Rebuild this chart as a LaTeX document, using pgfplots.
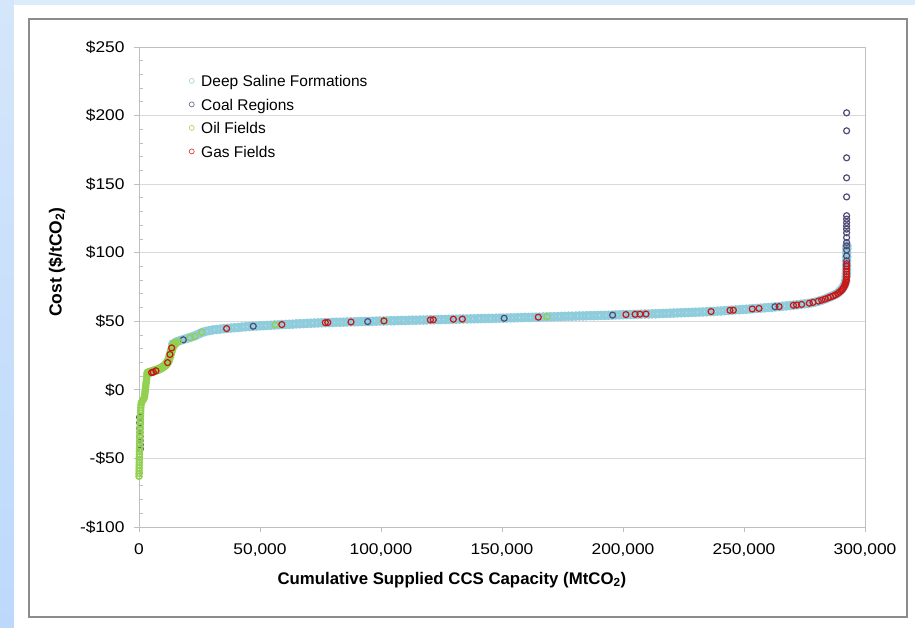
\documentclass[border=0pt]{standalone}
\usepackage{fontspec}
\setmainfont{Liberation Sans}
\newfontfamily\tickfont{Liberation Sans}[FakeStretch=1.12]
\usepackage{pgfplots}
\usepackage{pgfplotstable}
\pgfplotsset{compat=1.18}

\definecolor{salinec}{RGB}{143,204,220}
\definecolor{coalc}{RGB}{80,76,120}
\definecolor{oilc}{RGB}{146,208,80}
\definecolor{gasc}{RGB}{200,24,24}
\definecolor{gridc}{RGB}{217,217,217}
\definecolor{boxc}{RGB}{191,191,191}
\definecolor{framec}{RGB}{140,140,140}
\definecolor{bgtop}{RGB}{221,236,251}
\definecolor{bgleftA}{RGB}{212,230,250}
\definecolor{bgleftB}{RGB}{188,217,252}

% Deep saline formations: cumulative capacity (MtCO2) vs cost ($/tCO2)
\pgfplotstableread{
x y
14000 33.5
15500 35.0
17000 36.0
18500 36.8
20000 37.6
21500 38.4
23000 39.4
24500 40.6
26000 41.8
27500 42.6
29000 43.2
30500 43.7
32000 44.0
33500 44.3
35000 44.6
36500 44.8
38000 45.1
39500 45.3
41000 45.5
42500 45.8
44000 46.0
45500 46.2
47000 46.4
48500 46.5
50000 46.7
51500 46.8
53000 47.0
54500 47.1
56000 47.3
57500 47.4
59000 47.6
60500 47.7
62000 47.8
63500 47.9
65000 48.1
66500 48.2
68000 48.3
69500 48.5
71000 48.6
72500 48.7
74000 48.8
75500 48.9
77000 49.0
78500 49.1
80000 49.2
81500 49.3
83000 49.3
84500 49.4
86000 49.5
87500 49.6
89000 49.6
90500 49.7
92000 49.8
93500 49.9
95000 49.9
96500 50.0
98000 50.1
99500 50.2
101000 50.2
102500 50.3
104000 50.4
105500 50.4
107000 50.5
108500 50.6
110000 50.6
111500 50.7
113000 50.8
114500 50.8
116000 50.9
117500 50.9
119000 51.0
120500 51.1
122000 51.1
123500 51.2
125000 51.3
126500 51.3
128000 51.4
129500 51.5
131000 51.5
132500 51.6
134000 51.7
135500 51.7
137000 51.8
138500 51.8
140000 51.9
141500 52.0
143000 52.0
144500 52.1
146000 52.1
147500 52.2
149000 52.3
150500 52.3
152000 52.4
153500 52.5
155000 52.5
156500 52.6
158000 52.7
159500 52.8
161000 52.8
162500 52.9
164000 53.0
165500 53.0
167000 53.1
168500 53.2
170000 53.3
171500 53.3
173000 53.4
174500 53.5
176000 53.6
177500 53.7
179000 53.7
180500 53.8
182000 53.9
183500 53.9
185000 54.0
186500 54.1
188000 54.1
189500 54.2
191000 54.3
192500 54.3
194000 54.4
195500 54.5
197000 54.6
198500 54.7
200000 54.8
201500 54.9
203000 54.9
204500 55.0
206000 55.1
207500 55.2
209000 55.3
210500 55.3
212000 55.4
213500 55.5
215000 55.6
216500 55.7
218000 55.8
219500 55.9
221000 56.0
222500 56.1
224000 56.2
225500 56.3
227000 56.4
228500 56.5
230000 56.6
231500 56.7
233000 56.8
234500 56.9
236000 57.1
237500 57.2
239000 57.4
240500 57.5
242000 57.7
243500 57.9
245000 58.1
246500 58.3
248000 58.4
249500 58.6
251000 58.8
252500 59.0
254000 59.2
255500 59.4
257000 59.6
258500 59.8
260000 60.0
261500 60.2
263000 60.5
264500 60.7
266000 61.0
267500 61.2
269000 61.5
270500 61.8
272000 62.0
273500 62.4
275000 62.7
276500 63.0
278000 63.5
279500 64.0
281000 64.8
282500 65.6
284000 66.6
285000 67.4
286000 68.1
287000 68.9
288000 69.8
289000 71.0
289800 72.3
290500 73.6
291100 75.2
291600 77.0
292000 79.5
292200 82.5
292300 85
292350 88
292400 91
292400 94
292450 97
292450 100
292500 103
292500 105
}\salinetable

% Coal regions
\pgfplotstableread{
x y
250 -20
300 -24
350 -28
400 -31
450 -34
480 -37
520 -40
560 -43
18300 36.5
47200 46.4
94500 49.8
150900 52.2
195700 54.5
262800 60.6
292400 90.5
292400 94.1
292400 97.7
292400 102.0
292400 105.0
292400 107.5
292400 111.0
292400 114.5
292400 117.2
292400 119.6
292400 122.0
292400 124.5
292400 127.0
292400 140.7
292400 154.6
292400 169.2
292400 188.9
292400 202.0
}\coaltable

% Oil fields: steep low-cost column
\pgfplotstableread{
x y
0 -63
20 -61
40 -59
60 -57
80 -55
100 -53
120 -51
140 -49
160 -47
190 -45
220 -43
250 -41
280 -39
310 -37
340 -35
370 -33
400 -31
430 -29
460 -27
500 -25
540 -23
580 -21
620 -19
660 -17
700 -15
760 -13
830 -11
950 -9.5
1200 -8.5
1500 -7.8
1800 -7.0
2100 -6.0
2300 -4.5
2400 -3.0
2500 -1.5
2600 0.0
2700 1.5
2800 3.0
2900 4.5
3000 6.0
3100 7.5
3200 9.0
3300 10.5
3400 12.0
}\oilcolumn

% Oil fields: bend towards the saline band
\pgfplotstableread{
x y
3700 12.4
4200 12.7
4800 13.0
5400 13.3
6000 13.7
6700 14.1
7400 14.5
8100 15.0
8800 15.6
9500 16.3
10200 17.1
10800 18.0
11400 19.1
11900 20.4
12300 22.0
12600 23.8
12900 25.6
13200 27.5
13500 29.4
13900 31.2
14400 32.8
15000 34.0
}\oilbend

% Oil fields: scattered further along
\pgfplotstableread{
x y
16300 35.2
21100 38.1
23100 38.9
25900 42.0
56200 47.4
101400 50.3
168500 53.4
}\oilscatter

% Gas fields
\pgfplotstableread{
x y
5200 12.6
5900 12.9
7000 13.9
11800 19.9
12800 25.8
13500 30.6
36200 44.7
59000 47.6
77000 49.0
78000 49.1
87600 49.5
101200 50.3
120400 51.0
121600 51.1
129900 51.5
133600 51.6
165000 53.0
201200 54.9
205000 55.1
207000 55.2
209500 55.3
236400 57.1
244200 58.0
245600 58.1
253400 59.0
256200 59.4
264500 60.7
270400 61.7
271700 61.9
273800 62.3
277000 63.2
278500 63.8
280700 64.7
282100 65.4
283500 66.2
284800 67.1
285800 67.8
286900 68.5
287800 69.3
288700 70.2
289400 71.2
290100 72.2
290600 73.2
291000 74.2
291400 75.3
291700 76.5
291900 77.5
292100 78.5
292200 79.6
292300 80.7
292350 82.5
292400 84.4
292400 86.0
292400 88.0
292400 90.0
292400 92.0
}\gastable

\begin{document}
\begin{tikzpicture}
\useasboundingbox (0pt,0pt) rectangle (915pt,627pt);
% slide background and white panel
\fill[bgtop] (0pt,0pt) rectangle (915pt,627pt);
\shade[top color=bgleftA, bottom color=bgleftB] (0pt,0pt) rectangle (14pt,627pt);
\fill[white] (14pt,0pt) rectangle (915pt,622pt);
\draw[framec, line width=1.1pt] (29pt,10pt) rectangle (907pt,608pt);

\begin{axis}[
  at={(139pt,100pt)}, anchor=south west,
  scale only axis, width=726pt, height=480pt,
  xmin=0, xmax=300000, ymin=-100, ymax=250,
  clip=false,
  axis line style={boxc, line width=1pt},
  ymajorgrids, grid style={gridc, line width=0.8pt},
  xtick={0,50000,100000,150000,200000,250000,300000},
  xticklabels={0,{50,000},{100,000},{150,000},{200,000},{250,000},{300,000}},
  ytick={-100,-50,0,50,100,150,200,250},
  yticklabels={-\$100,-\$50,\$0,\$50,\$100,\$150,\$200,\$250},
  minor y tick num=4,
  xtick pos=bottom, ytick pos=left,
  tick align=outside, major tick length=5pt, minor tick length=4pt,
  tick style={color=boxc, line width=0.8pt},
  minor y tick style={xshift=4pt},
  scaled ticks=false,
  ticklabel style={font=\tickfont\fontsize{15.5}{18}\selectfont, text=black},
  yticklabel style={xshift=-6pt},
  xticklabel style={yshift=-8pt},
  xlabel={Cumulative Supplied CCS Capacity (MtCO\textsubscript{2})},
  ylabel={Cost (\$/tCO\textsubscript{2})},
  xlabel style={at={(axis description cs:0.431,-0.110)}, anchor=center,
    font=\bfseries\fontsize{16.8}{20}\selectfont},
  ylabel style={at={(axis description cs:-0.113,0.552)}, anchor=center,
    font=\bfseries\fontsize{17.5}{20}\selectfont},
  legend style={at={(axis description cs:0.0689,0.935)}, anchor=north west,
    draw=none, fill=none, inner sep=0pt,
    font=\fontsize{15.5}{18}\selectfont, row sep=11.5pt,
    nodes={inner sep=1pt, text height=0.75em, text depth=0.25em},
    /tikz/every odd column/.append style={column sep=6pt}},
  legend cell align=left,
  legend image code/.code={\draw[mark repeat=2,mark phase=2,#1]
    plot coordinates {(0pt,3.5pt)(4pt,3.5pt)(8pt,3.5pt)};},
  legend image post style={mark size=2.5pt, opacity=0.8,
    mark options={line width=0.7pt}},
]
\addplot[only marks, mark=o, color=salinec, mark size=3.5pt,
  mark options={line width=2.5pt}] table {\salinetable};
\addlegendentry{Deep Saline Formations}
\addplot[only marks, mark=o, color=coalc, mark size=3pt,
  mark options={line width=1.2pt}] table {\coaltable};
\addlegendentry{Coal Regions}
\addplot[only marks, mark=o, color=oilc, mark size=3pt,
  mark options={line width=1.5pt}] table {\oilcolumn};
\addlegendentry{Oil Fields}
\addplot[only marks, mark=o, color=oilc, mark size=3.4pt,
  mark options={line width=2.3pt}, forget plot] table {\oilbend};
\addplot[only marks, mark=o, color=oilc, mark size=3pt,
  mark options={line width=1.3pt}, forget plot] table {\oilscatter};
\addplot[only marks, mark=o, color=gasc, mark size=3pt,
  mark options={line width=1.2pt}] table {\gastable};
\addlegendentry{Gas Fields}
\end{axis}
\end{tikzpicture}
\end{document}
